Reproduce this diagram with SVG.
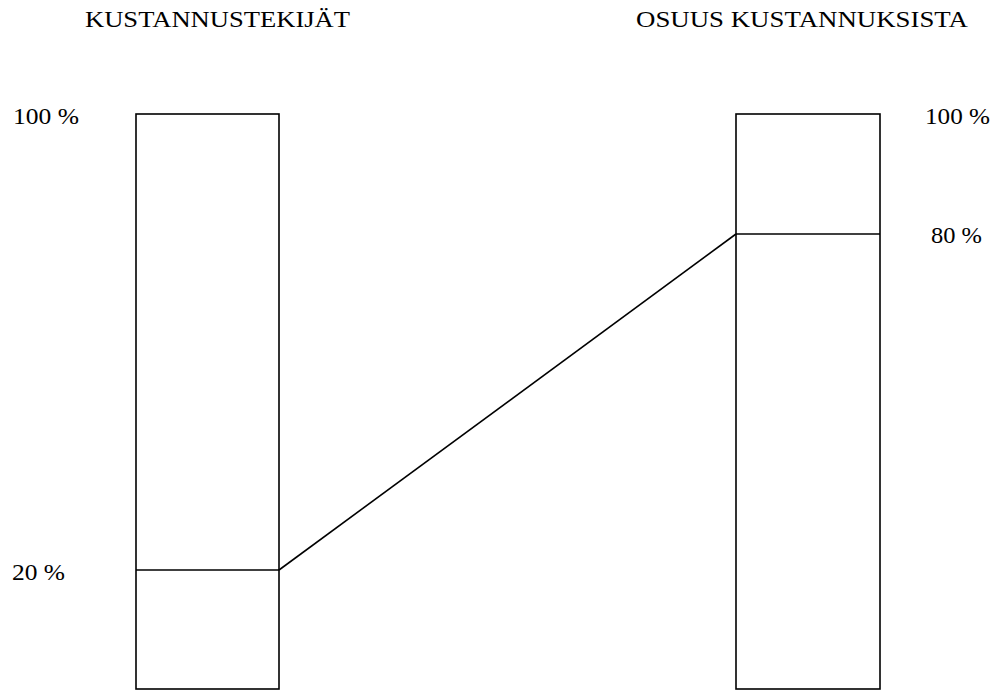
<svg xmlns="http://www.w3.org/2000/svg" width="1000" height="690" viewBox="0 0 1000 690">
<style>
text{font-family:"Liberation Serif","Times New Roman",serif;font-size:23px;fill:#000}
.box{fill:#fff;stroke:#000;stroke-width:1.6}
.ln{stroke:#000;stroke-width:1.6;fill:none}
</style>
<rect width="1000" height="690" fill="#fff"/>
<text x="85" y="27" textLength="265" lengthAdjust="spacingAndGlyphs">KUSTANNUSTEKIJÄT</text>
<text x="636" y="27" textLength="332" lengthAdjust="spacingAndGlyphs">OSUUS KUSTANNUKSISTA</text>
<g id="left-bar">
<rect class="box" x="136" y="114" width="143" height="575"/>
<line class="ln" x1="136" y1="570" x2="279" y2="570"/>
<text x="13" y="124" textLength="66" lengthAdjust="spacingAndGlyphs">100 %</text>
<text x="12" y="580" textLength="53" lengthAdjust="spacingAndGlyphs">20 %</text>
</g>
<g id="right-bar">
<rect class="box" x="736" y="114" width="144" height="575"/>
<line class="ln" x1="736" y1="234" x2="880" y2="234"/>
<text x="925" y="124" textLength="65" lengthAdjust="spacingAndGlyphs">100 %</text>
<text x="931" y="243" textLength="51" lengthAdjust="spacingAndGlyphs">80 %</text>
</g>
<g id="connectors">
<line class="ln" x1="279" y1="570" x2="736" y2="234"/>
</g>
</svg>
